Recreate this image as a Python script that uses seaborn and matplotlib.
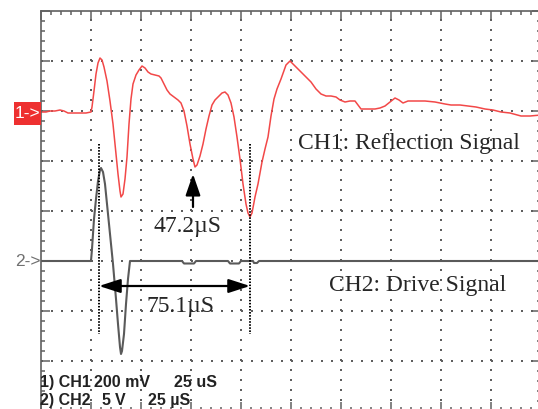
import numpy as np
import pandas as pd
import matplotlib
matplotlib.use("Agg")
import matplotlib.pyplot as plt
from matplotlib.ticker import MultipleLocator
from matplotlib.patches import Rectangle
import seaborn as sns

# ---- data (time in microseconds, amplitude in screen divisions) ----
ch1_t = [0, 2.5, 4.5, 7, 9.5, 11.5, 13.5, 17, 19.5, 22.5, 25, 25.5, 26.5, 27.5, 28.5, 29.5,
         30.5, 31.5, 33, 34.5, 36, 37.5, 38.5, 39.5, 40, 41, 42, 43, 44, 45, 46, 47.5, 49,
         50.5, 52, 53.5, 55, 57, 59, 60, 61.5, 63, 64.5, 66.5, 68.5, 70, 71.5, 73, 74.5, 76,
         77, 78, 79.5, 81, 82.5, 84, 85.5, 87, 89, 90.5, 92, 93.5, 95, 96.5, 98, 99.5, 101,
         102.5, 103.5, 104.5, 105.5, 107, 108.5, 110.5, 112, 113.5, 115, 116.5, 118, 120,
         122.5, 124.5, 126.5, 128.5, 130.5, 132.5, 135, 137.5, 140, 142.5, 145, 147.5, 149.5,
         152, 154.5, 157, 158.5, 160, 163.5, 167, 169.5, 172, 174.5, 177, 179, 181, 183.5,
         187, 192, 197, 202, 205, 209.5, 213.5, 217.5, 222, 226, 230, 234.5, 240, 244.5, 250]
ch1_v = [1.98, 1.98, 2.00, 2.00, 2.02, 2.00, 1.96, 1.96, 1.96, 1.96, 1.98, 2.08, 2.40, 2.74,
         2.96, 3.06, 3.02, 2.88, 2.60, 2.20, 1.74, 1.14, 0.74, 0.40, 0.28, 0.34, 0.64, 1.08,
         1.74, 2.24, 2.54, 2.72, 2.82, 2.90, 2.86, 2.78, 2.74, 2.72, 2.70, 2.66, 2.54, 2.42,
         2.34, 2.28, 2.22, 2.16, 2.00, 1.70, 1.34, 1.04, 0.88, 0.92, 1.10, 1.34, 1.64, 1.90,
         2.12, 2.22, 2.30, 2.36, 2.38, 2.32, 2.16, 1.88, 1.48, 1.04, 0.54, 0.14, -0.04, -0.12,
         -0.04, 0.28, 0.54, 0.98, 1.24, 1.48, 1.90, 2.24, 2.44, 2.64, 2.92, 3.00, 2.92, 2.84,
         2.76, 2.68, 2.58, 2.44, 2.34, 2.30, 2.30, 2.28, 2.22, 2.18, 2.20, 2.20, 2.12, 2.04,
         2.04, 2.04, 2.06, 2.10, 2.18, 2.26, 2.22, 2.16, 2.20, 2.20, 2.20, 2.18, 2.14, 2.12,
         2.12, 2.10, 2.08, 2.04, 2.02, 1.98, 1.96, 1.90, 1.90, 1.92]

ch2_t = [0, 25, 25.5, 26.5, 27.5, 28.5, 29.5, 30, 31, 32, 33, 34.5, 36, 37.5, 38.5, 39.5, 40,
         40.5, 41.5, 42.5, 43.5, 44.5, 70.5, 71.5, 76.5, 77.5, 93.5, 94.5, 99, 100, 106,
         106.5, 108, 109, 250]
ch2_v = [-1.00, -1.00, -0.76, -0.16, 0.24, 0.60, 0.82, 0.86, 0.78, 0.54, 0.14, -0.46, -1.06,
         -1.76, -2.26, -2.72, -2.86, -2.80, -2.46, -1.86, -1.36, -1.00, -1.00, -1.05, -1.05,
         -1.00, -1.00, -1.05, -1.05, -1.00, -1.00, -1.04, -1.04, -1.00, -1.00]

t_start = 29.0      # drive pulse marker (us)
t_end = 104.5       # reflection marker (us)
label_dt = "75.1\u00b5S"
label_dip = "47.2\u00b5S"
ch1_label = "CH1: Reflection Signal"
ch2_label = "CH2: Drive Signal"
status1 = ["1) CH1", "200 mV", "25 uS"]
status2 = ["2) CH2", "5", "V", "25 \u00b5S"]

df1 = pd.DataFrame({"t": ch1_t, "v": ch1_v})
df2 = pd.DataFrame({"t": ch2_t, "v": ch2_v})

sns.set_style("white")
plt.rcParams["font.family"] = ["Liberation Sans", "DejaVu Sans"]
plt.rcParams["lines.scale_dashes"] = False

fig = plt.figure(figsize=(5.38, 4.10), dpi=100)
ax = fig.add_axes([41 / 538, -2 / 410, 500 / 538, 400 / 410])

ax.set_xlim(0, 250)
ax.set_ylim(-4, 4)

# dotted graticule: a dot every minor division along each major grid line
minor_x = np.arange(0.5, 250, 5)
minor_y = np.arange(-3.98, 4, 0.2)
gx_pts, gy_pts = [], []
for gy in range(-3, 4):
    gx_pts.extend(minor_x)
    gy_pts.extend([gy] * len(minor_x))
for gx in range(25, 250, 25):
    gx_pts.extend([gx] * len(minor_y))
    gy_pts.extend(minor_y)
ax.plot(gx_pts, gy_pts, linestyle="none", marker="s", markersize=1.5,
        markeredgewidth=0, color="#5e5e5e", zorder=1.5)

sns.lineplot(data=df2, x="t", y="v", ax=ax, color="#5a5a5a", linewidth=1.5,
             sort=False, estimator=None, zorder=2)
sns.lineplot(data=df1, x="t", y="v", ax=ax, color="#f24848", linewidth=1.1,
             sort=False, estimator=None, zorder=2)

ax.set_xlim(0, 250)
ax.set_ylim(-4, 4)
ax.set_xlabel("")
ax.set_ylabel("")
ax.xaxis.set_major_locator(MultipleLocator(25))
ax.xaxis.set_minor_locator(MultipleLocator(5))
ax.yaxis.set_major_locator(MultipleLocator(1))
ax.yaxis.set_minor_locator(MultipleLocator(0.2))
ax.tick_params(which="both", direction="in", top=True, right=True, bottom=True, left=True,
               labelleft=False, labelbottom=False, color="#606060", width=1.1)
ax.tick_params(which="major", length=6.5)
ax.tick_params(which="minor", length=3)
for s in ax.spines.values():
    s.set_color("#606060")
    s.set_linewidth(1.2)
    s.set_visible(True)

# channel markers
ax.add_patch(Rectangle((-13.5, 1.72), 13.5, 0.46, facecolor="#ee3030", edgecolor="none",
                       clip_on=False, transform=ax.transData, zorder=5))
ax.text(-6.6, 1.97, "1->", color="white", fontsize=12.5, ha="center", va="center",
        clip_on=False, zorder=6)
ax.text(-0.2, -1.0, "2->", color="#707070", fontsize=12.5, ha="right", va="center",
        clip_on=False)

# dotted marker lines
for tx in (t_start, t_end):
    ax.plot([tx, tx], [1.34, -2.46], color="black", linewidth=1.4,
            linestyle=(0, (1.1, 1.1)), zorder=4)

# double arrow
ax.annotate("", xy=(t_start, -1.5), xytext=(t_end, -1.5),
            arrowprops=dict(arrowstyle="<|-|>,head_length=1.3,head_width=0.42",
                            mutation_scale=10, lw=1.6, color="black",
                            shrinkA=0, shrinkB=0), zorder=5)
# up arrow
ax.annotate("", xy=(76, 0.74), xytext=(76, 0.08),
            arrowprops=dict(arrowstyle="-|>,head_length=1.3,head_width=0.45",
                            mutation_scale=10, lw=1.6, color="black",
                            shrinkA=0, shrinkB=0), zorder=5)

serif = ["Liberation Serif", "DejaVu Serif"]
ax.text(56.5, -0.40, label_dip, family=serif, fontsize=17, ha="left", va="baseline")
ax.text(52.5, -2.0, label_dt, family=serif, fontsize=17, ha="left", va="baseline")
ax.text(128.5, 1.26, ch1_label, family=serif, fontsize=17, ha="left", va="baseline")
ax.text(144.0, -1.58, ch2_label, family=serif, fontsize=17, ha="left", va="baseline")

# status lines
pos1 = [-0.5, 26.5, 66.5]
pos2 = [-0.5, 30, 37, 53.5]
for s, x in zip(status1, pos1):
    ax.text(x, -3.5, s, fontsize=11.5, fontweight="bold", color="#222222",
            ha="left", va="baseline")
for s, x in zip(status2, pos2):
    ax.text(x, -3.86, s, fontsize=11.5, fontweight="bold", color="#222222",
            ha="left", va="baseline")

fig.savefig("out.png", dpi=100)
